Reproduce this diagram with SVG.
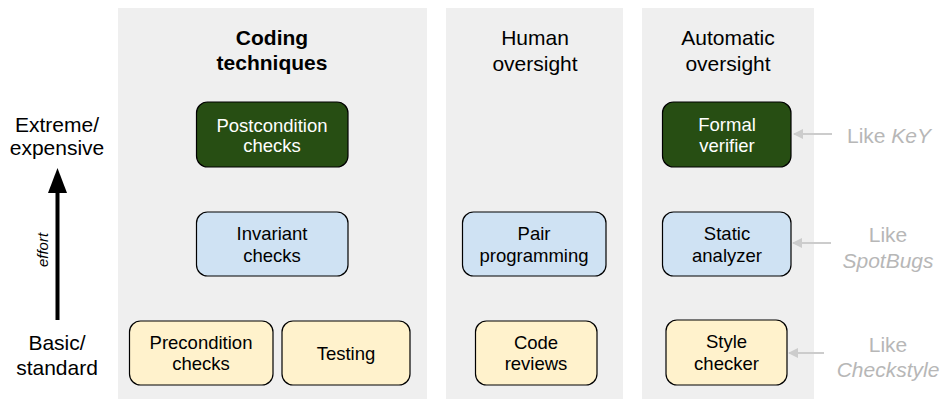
<svg xmlns="http://www.w3.org/2000/svg" width="948" height="399" viewBox="0 0 948 399">
<defs>
<style>
text{font-family:"Liberation Sans",Arial,sans-serif;text-anchor:middle}
.panel{fill:#efefef}
.hdr{font-size:21px;fill:#000}
.side{font-size:21px;fill:#000}
.nt{font-size:18.5px;fill:#000}
.nw{font-size:18.5px;fill:#fff}
.box{stroke:#000;stroke-width:1.2}
.g{fill:#274e13}
.b{fill:#cfe2f3}
.y{fill:#fff2cc}
.like{font-size:21px;fill:#b7b7b7}
.ga{stroke:#cccccc;stroke-width:2;fill:none}
</style>
<marker id="ah" viewBox="0 0 10 10" refX="9" refY="5" markerWidth="5" markerHeight="5" orient="auto" markerUnits="strokeWidth">
<path d="M0,0 L10,5 L0,10 z" fill="#cccccc"/>
</marker>
</defs>
<rect width="948" height="399" fill="#fff"/>
<g id="panels">
<rect class="panel" x="118" y="8" width="309" height="391"/>
<rect class="panel" x="446" y="8" width="177" height="391"/>
<rect class="panel" x="642" y="8" width="172" height="391"/>
</g>
<g id="headers">
<text class="hdr" x="272" y="45" font-weight="bold">Coding</text>
<text class="hdr" x="272" y="70" font-weight="bold">techniques</text>
<text class="hdr" x="535" y="45">Human</text>
<text class="hdr" x="535" y="71">oversight</text>
<text class="hdr" x="728" y="45">Automatic</text>
<text class="hdr" x="728" y="71">oversight</text>
</g>
<g id="axis">
<text class="side" x="57" y="132">Extreme/</text>
<text class="side" x="57" y="155">expensive</text>
<text class="side" x="57" y="350">Basic/</text>
<text class="side" x="57" y="375">standard</text>
<line x1="57.5" y1="320" x2="57.5" y2="190" stroke="#000" stroke-width="4"/>
<path d="M48,193 L57.5,168 L67,193 z" fill="#000"/>
<text x="0" y="0" font-size="15" font-style="italic" transform="translate(48,250) rotate(-90)">effort</text>
</g>
<g id="n-postcondition">
<rect class="box g" x="196.5" y="102" width="151.5" height="65" rx="11"/>
<text class="nw" x="272" y="131.5">Postcondition</text>
<text class="nw" x="272" y="152">checks</text>
</g>
<g id="n-invariant">
<rect class="box b" x="196.5" y="212" width="151.5" height="64" rx="11"/>
<text class="nt" x="272" y="240">Invariant</text>
<text class="nt" x="272" y="262">checks</text>
</g>
<g id="n-precondition">
<rect class="box y" x="129.5" y="321" width="143.5" height="64" rx="11"/>
<text class="nt" x="201" y="349">Precondition</text>
<text class="nt" x="201" y="370">checks</text>
</g>
<g id="n-testing">
<rect class="box y" x="282" y="321" width="128" height="64" rx="11"/>
<text class="nt" x="346" y="360">Testing</text>
</g>
<g id="n-pair">
<rect class="box b" x="462.5" y="212" width="143.5" height="64" rx="11"/>
<text class="nt" x="534" y="240">Pair</text>
<text class="nt" x="534" y="262">programming</text>
</g>
<g id="n-code">
<rect class="box y" x="475.5" y="321" width="121.5" height="64" rx="11"/>
<text class="nt" x="536" y="349">Code</text>
<text class="nt" x="536" y="370">reviews</text>
</g>
<g id="n-formal">
<rect class="box g" x="662.5" y="102" width="128.5" height="65" rx="11"/>
<text class="nw" x="727" y="131">Formal</text>
<text class="nw" x="727" y="152">verifier</text>
</g>
<g id="n-static">
<rect class="box b" x="662.5" y="212" width="128.5" height="64" rx="11"/>
<text class="nt" x="727" y="240">Static</text>
<text class="nt" x="727" y="262">analyzer</text>
</g>
<g id="n-style">
<rect class="box y" x="666" y="320" width="121" height="65" rx="11"/>
<text class="nt" x="726.5" y="348">Style</text>
<text class="nt" x="726.5" y="370">checker</text>
</g>
<g id="labels">
<text class="like" x="889" y="143">Like <tspan font-style="italic">KeY</tspan></text>
<text class="like" x="888" y="242">Like</text>
<text class="like" x="888" y="268" font-style="italic">SpotBugs</text>
<text class="like" x="888" y="352">Like</text>
<text class="like" x="888" y="377" font-style="italic">Checkstyle</text>
</g>
<g id="connectors">
<line class="ga" x1="832" y1="134" x2="794" y2="134" marker-end="url(#ah)"/>
<line class="ga" x1="831" y1="243" x2="793" y2="243" marker-end="url(#ah)"/>
<line class="ga" x1="824" y1="353" x2="789" y2="353" marker-end="url(#ah)"/>
</g>
</svg>
